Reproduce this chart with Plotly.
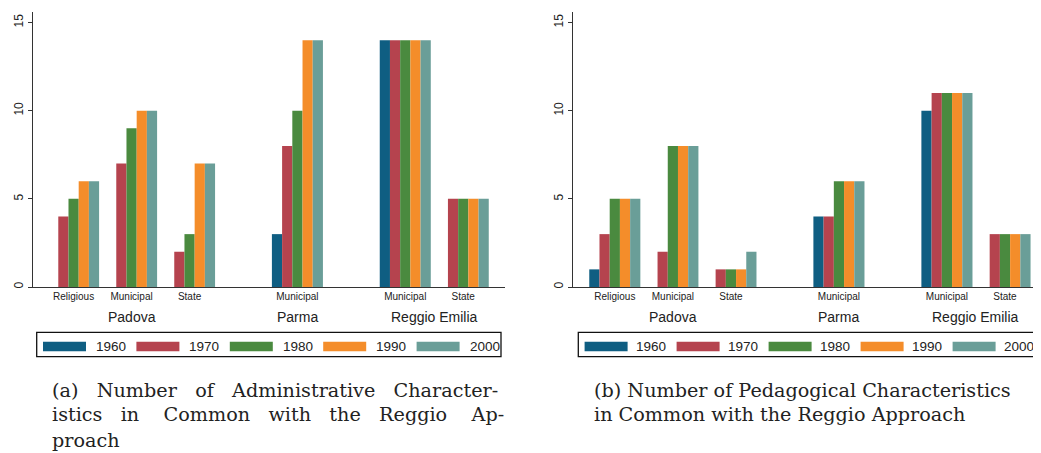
import plotly.graph_objects as go

# ---------------- data ----------------
cities = ["Padova", "Padova", "Padova", "Parma", "Reggio Emilia", "Reggio Emilia"]
types = ["Religious", "Municipal", "State", "Municipal", "Municipal", "State"]
years = ["1960", "1970", "1980", "1990", "2000"]
colors = ["#0f5e82", "#b5434e", "#4a8a3f", "#f48d2a", "#6a9e98"]

admin_1960 = [0, 0, 0, 3, 14, 0]
admin_1970 = [4, 7, 2, 8, 14, 5]
admin_1980 = [5, 9, 3, 10, 14, 5]
admin_1990 = [6, 10, 7, 14, 14, 5]
admin_2000 = [6, 10, 7, 14, 14, 5]

ped_1960 = [1, 0, 0, 4, 10, 0]
ped_1970 = [3, 2, 1, 4, 11, 3]
ped_1980 = [5, 8, 1, 6, 11, 3]
ped_1990 = [5, 8, 1, 6, 11, 3]
ped_2000 = [5, 8, 2, 6, 11, 3]

caption_a = ["(a) Number of Administrative Character-",
             "istics in Common with the Reggio Ap-",
             "proach"]
caption_b = ["(b) Number of Pedagogical Characteristics",
             "in Common with the Reggio Approach"]

admin = [admin_1960, admin_1970, admin_1980, admin_1990, admin_2000]
ped = [ped_1960, ped_1970, ped_1980, ped_1990, ped_2000]

# ---------------- layout helpers ----------------
# the page has an 8px body margin, so reference pixel coordinates are shifted
OFF = 8
W, H = 1041 - OFF, 453 - OFF
PLOT_TOP, PLOT_BOT = 12, 287          # reference pixels
CITY_GAP = 0.86

city_order = []
for c in cities:
    if c not in city_order:
        city_order.append(c)
positions = [i + CITY_GAP * city_order.index(c) for i, c in enumerate(cities)]


def px_x(x):
    return (x - OFF) / W


def px_y(y):
    return (PLOT_BOT - y) / (PLOT_BOT - PLOT_TOP)


def justify(line, extra):
    words = line.split(" ")
    out = words[0]
    for i, w in enumerate(words[1:]):
        n = extra[i] if i < len(extra) else 0
        out += " " + "\u00a0" * n + w
    return out


SANS = "Liberation Sans, Arial, sans-serif"
SERIF = "DejaVu Serif, serif"
TXT = "#222222"

fig = go.Figure()
for panel, data in enumerate([admin, ped]):
    xa = "x" if panel == 0 else "x2"
    ya = "y" if panel == 0 else "y2"
    for k, yr in enumerate(years):
        fig.add_trace(go.Bar(
            x=positions, y=data[k], name=yr, xaxis=xa, yaxis=ya,
            marker=dict(color=colors[k], line=dict(width=0)),
            showlegend=False, hoverinfo="skip"))

yaxis_common = dict(range=[0, 15.6], tickvals=[0, 5, 10, 15], ticks="outside",
                    ticklen=4, tickwidth=1, tickcolor="#333", showline=True,
                    linecolor="#333", linewidth=1.2, showgrid=False, zeroline=False,
                    tickangle=-90, tickfont=dict(family=SANS, size=12, color=TXT))
xaxis_common = dict(tickvals=positions, ticktext=types, ticks="", showline=True,
                    linecolor="#333", linewidth=1.2, showgrid=False, zeroline=False,
                    tickfont=dict(family=SANS, size=10, color=TXT))

fig.update_layout(
    width=W, height=H,
    margin=dict(l=0, r=0, t=PLOT_TOP - OFF, b=H - (PLOT_BOT - OFF)),
    paper_bgcolor="white", plot_bgcolor="white",
    barmode="group", bargap=0.12, bargroupgap=0,
    xaxis=dict(domain=[px_x(33), px_x(505)], range=[-0.70, 7.44], anchor="y", **xaxis_common),
    yaxis=dict(domain=[0, 1], anchor="x", **yaxis_common),
    xaxis2=dict(domain=[px_x(573), 1.0], range=[-0.72, 7.34], anchor="y2", **xaxis_common),
    yaxis2=dict(domain=[0, 1], anchor="x2", **yaxis_common),
)

annotations = []
shapes = []
for panel in range(2):
    xref = "x" if panel == 0 else "x2"
    # city labels centred under their groups
    for c in city_order:
        ps = [p for p, cc in zip(positions, cities) if cc == c]
        annotations.append(dict(x=sum(ps) / len(ps), y=px_y(316.5), xref=xref, yref="paper",
                                text=c, showarrow=False, xanchor="center", yanchor="middle",
                                font=dict(family=SANS, size=14, color=TXT)))
    # legend box
    box_left = 36.7 if panel == 0 else 578.3
    box_right = 501 if panel == 0 else 1060
    step = 93.4 if panel == 0 else 92.0
    shapes.append(dict(type="rect", xref="paper", yref="paper",
                       x0=px_x(box_left), x1=px_x(box_right), y0=px_y(356.7), y1=px_y(332.3),
                       line=dict(color="#111", width=1.3), fillcolor="rgba(0,0,0,0)"))
    for k, yr in enumerate(years):
        sx = box_left + 6.3 + k * step
        shapes.append(dict(type="rect", xref="paper", yref="paper",
                           x0=px_x(sx), x1=px_x(sx + 43), y0=px_y(351.3), y1=px_y(341.8),
                           line=dict(width=0), fillcolor=colors[k]))
        annotations.append(dict(x=px_x(sx + (51 if panel == 0 else 49)), y=px_y(346.6),
                                xref="paper", yref="paper",
                                text=yr, showarrow=False, xanchor="left", yanchor="middle",
                                font=dict(family=SANS, size=13.5, color=TXT)))
    # captions
    cap = caption_a if panel == 0 else caption_b
    extras = [[2, 2, 2, 2], [2, 3, 2, 2, 2, 3], []] if panel == 0 else [[], []]
    cx = 50 if panel == 0 else 591.5
    for j, line in enumerate(cap):
        annotations.append(dict(x=px_x(cx), y=px_y(390 + 25 * j), xref="paper", yref="paper",
                                text=justify(line, extras[j]), showarrow=False,
                                xanchor="left", yanchor="middle",
                                font=dict(family=SERIF, size=19.2, color=TXT)))

fig.update_layout(annotations=annotations, shapes=shapes)
fig.write_html("out.html", config={"displayModeBar": False})
